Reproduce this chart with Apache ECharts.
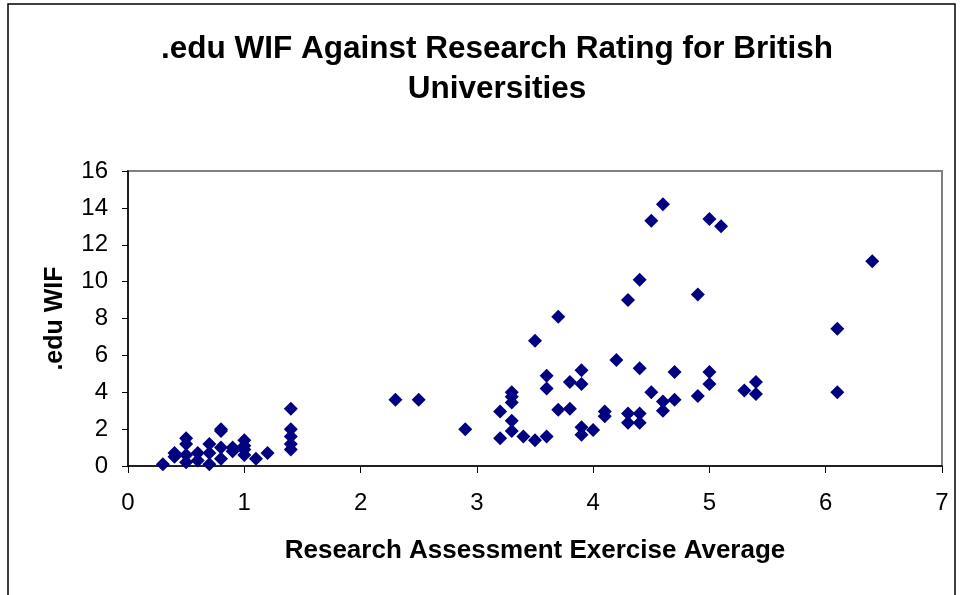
<!DOCTYPE html>
<html>
<head>
<meta charset="utf-8">
<script src="https://cdn.jsdelivr.net/npm/echarts@6/dist/echarts.min.js"></script>
<style>
  html, body { margin: 0; padding: 0; background: #fff; }
  #chart { width: 962px; height: 595px; }
</style>
</head>
<body>
<div id="chart"></div>
<script>
    // research rating (x) against .edu WIF (y)
    var ratingLow = [0.3, 0.4, 0.4, 0.5, 0.5, 0.5, 0.5, 0.6, 0.6, 0.7, 0.7, 0.7, 0.8, 0.8, 0.8, 0.8,
                     0.9, 0.9, 1.0, 1.0, 1.0, 1.0, 1.1, 1.2, 1.4, 1.4, 1.4, 1.4, 1.4];
    var wifLow    = [0.1, 0.5, 0.7, 0.2, 0.6, 1.2, 1.5, 0.3, 0.7, 0.1, 0.7, 1.2, 0.4, 1.0, 1.9, 2.0,
                     0.8, 1.0, 0.6, 0.9, 1.1, 1.4, 0.4, 0.7, 0.9, 1.2, 1.6, 2.0, 3.1];
    var ratingHigh = [2.3, 2.5, 2.9, 3.2, 3.2, 3.3, 3.3, 3.3, 3.3, 3.3, 3.4, 3.5, 3.5, 3.6, 3.6, 3.6,
                      3.7, 3.7, 3.8, 3.8, 3.9, 3.9, 3.9, 3.9, 4.0, 4.1, 4.1, 4.2, 4.3, 4.3, 4.3,
                      4.4, 4.4, 4.4, 4.4, 4.5, 4.5, 4.6, 4.6, 4.6, 4.7, 4.7, 4.9, 4.9, 5.0, 5.0,
                      5.0, 5.1, 5.3, 5.4, 5.4, 6.1, 6.1, 6.4];
    var wifHigh    = [3.6, 3.6, 2.0, 1.5, 2.95, 1.9, 2.45, 3.45, 3.75, 4.0, 1.6, 1.4, 6.8, 1.6, 4.2, 4.9,
                      3.05, 8.1, 3.1, 4.55, 1.7, 2.1, 4.45, 5.2, 1.95, 2.7, 2.95, 5.75, 2.35, 2.85, 9.0,
                      2.35, 2.85, 5.3, 10.1, 4.0, 13.3, 3.0, 3.5, 14.2, 3.6, 5.1, 3.8, 9.3, 4.45, 5.1,
                      13.4, 13.0, 4.1, 3.9, 4.55, 4.0, 7.45, 11.1];

    var xTicks = [0, 1, 2, 3, 4, 5, 6, 7];
    var yTicks = [0, 2, 4, 6, 8, 10, 12, 14, 16];

    (function () {
        var font = "'Liberation Sans', Arial, sans-serif";
        var chart = echarts.init(document.getElementById('chart'));

        var points = [];
        ratingLow.forEach(function (x, i) { points.push([x, wifLow[i]]); });
        ratingHigh.forEach(function (x, i) { points.push([x, wifHigh[i]]); });

        var option = {
            animation: false,
            backgroundColor: '#fff',
            title: {
                text: '.edu WIF Against Research Rating for British\nUniversities',
                left: 492,
                top: 24,
                textAlign: 'center',
                textStyle: {
                    fontFamily: font, fontSize: 31.5, fontWeight: 'bold',
                    color: '#000', lineHeight: 40
                }
            },
            graphic: [{
                type: 'rect',
                shape: { x: 8, y: 4, width: 947, height: 600 },
                style: { fill: 'none', stroke: '#000', lineWidth: 1.5 },
                silent: true
            }],
            grid: {
                left: 128, top: 171, right: 20, bottom: 129,
                show: true, borderColor: '#808080', borderWidth: 2
            },
            xAxis: {
                type: 'value',
                min: xTicks[0], max: xTicks[xTicks.length - 1], interval: 1,
                name: 'Research Assessment Exercise Average',
                nameLocation: 'middle', nameGap: 72,
                nameTextStyle: { fontFamily: font, fontSize: 26, fontWeight: 'bold', color: '#000' },
                axisLine: { lineStyle: { color: '#000', width: 1.5 } },
                axisTick: { length: 7, lineStyle: { color: '#000' } },
                axisLabel: { fontFamily: font, fontSize: 24, color: '#000', margin: 25 },
                splitLine: { show: false }
            },
            yAxis: {
                type: 'value',
                min: yTicks[0], max: yTicks[yTicks.length - 1], interval: 2,
                name: '.edu WIF',
                nameLocation: 'middle', nameGap: 60,
                nameTextStyle: { fontFamily: font, fontSize: 25, fontWeight: 'bold', color: '#000' },
                axisLine: { show: true, lineStyle: { color: '#000', width: 1.5 } },
                axisTick: { show: true, length: 6, lineStyle: { color: '#000' } },
                axisLabel: { fontFamily: font, fontSize: 24, color: '#000', margin: 20 },
                splitLine: { show: false }
            },
            series: [{
                type: 'scatter',
                data: points,
                symbol: 'diamond',
                symbolSize: 14,
                itemStyle: { color: '#000080', opacity: 1 }
            }]
        };

        chart.setOption(option);
        window.addEventListener('resize', chart.resize);
    })();
</script>
</body>
</html>
